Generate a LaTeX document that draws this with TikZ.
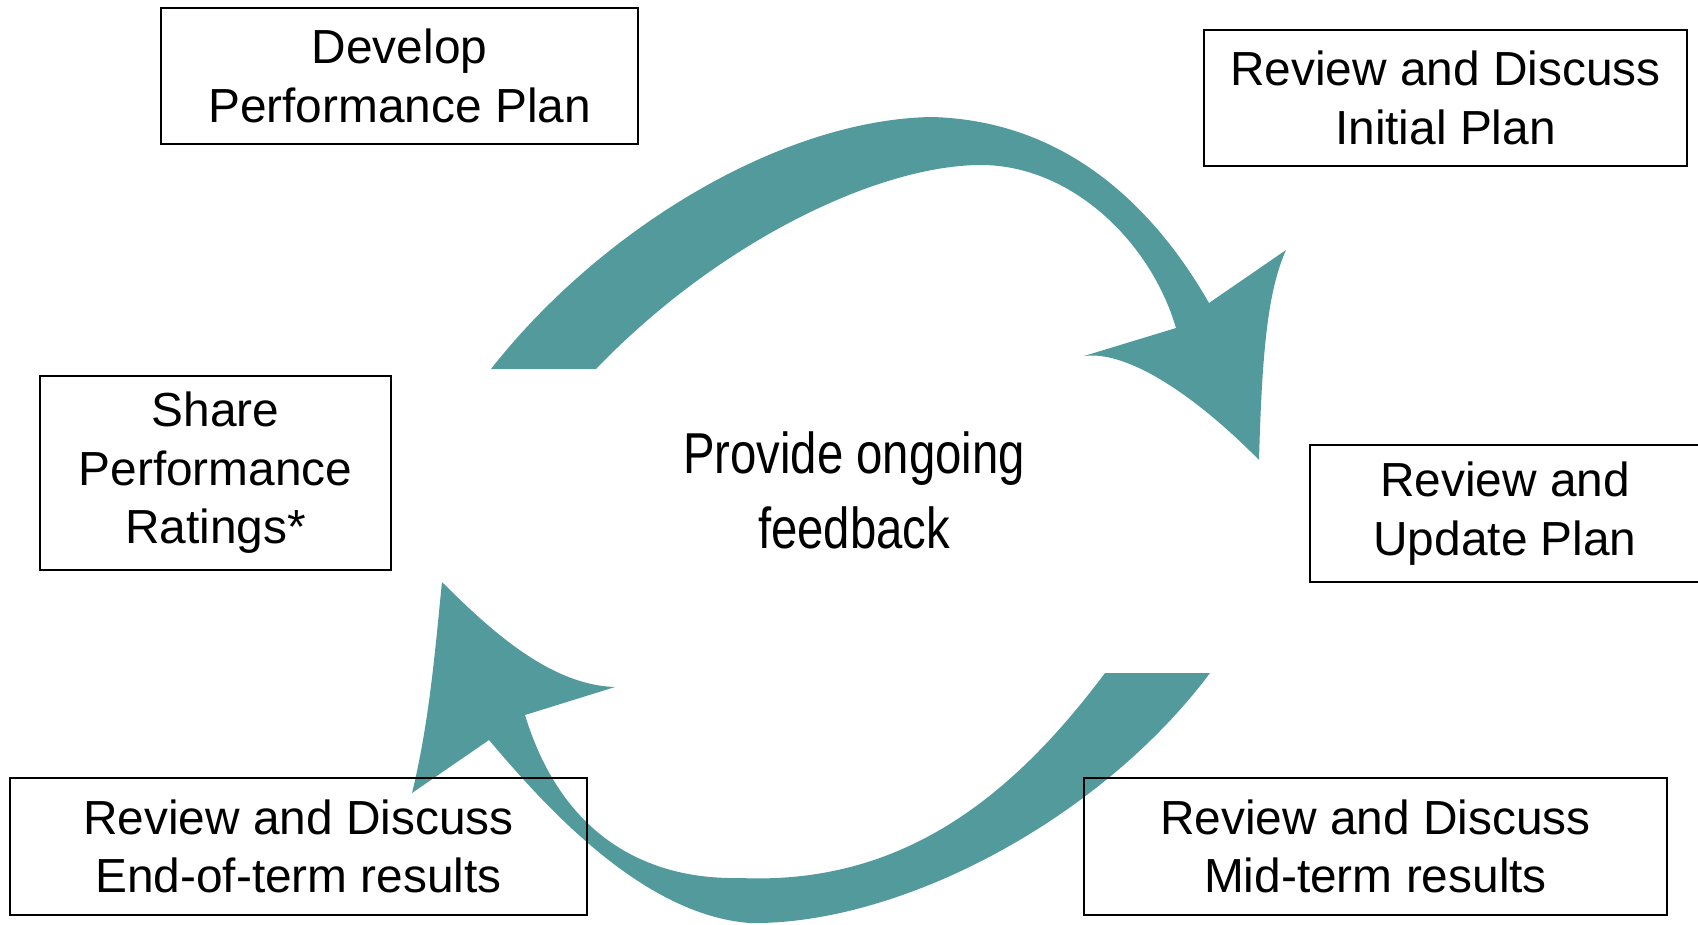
\documentclass[tikz,border=0pt]{standalone}
\usepackage{fontspec}
\setmainfont{Liberation Sans}
\newfontfamily\narrowfont[FakeStretch=0.82]{Liberation Sans}
\usepackage[HTML]{xcolor}
\usepackage{tikz}

\definecolor{cycleteal}{HTML}{529A9B}

\tikzset{
  stepbox/.style={draw=black, line width=0.6pt, align=center, inner sep=0pt,
    font=\fontsize{13.6}{16.6}\selectfont},
  band/.style={fill=cycleteal, draw=none}
}

\begin{document}
\begin{tikzpicture}[x=0.01cm, y=-0.01cm]
\useasboundingbox (0,0) rectangle (1698,924);

% Upper arrow: plan -> review
\fill[band] (491,369) .. controls (600,230) and (780,120) .. (931,117)
  .. controls (1060,120) and (1150,200) .. (1209,303)
  -- (1286,250)
  .. controls (1268,290) and (1262,350) .. (1259,460)
  .. controls (1200,400) and (1130,350) .. (1084,356)
  -- (1176,328)
  .. controls (1150,240) and (1070,165) .. (981,165)
  .. controls (880,165) and (720,240) .. (596,369) -- cycle;

% Lower arrow: mid-term -> end-of-term
\fill[band] (1210,673) .. controls (1100,820) and (900,925) .. (750,923)
  .. controls (640,915) and (540,800) .. (489,740)
  -- (412,793)
  .. controls (430,720) and (436,640) .. (442,582)
  .. controls (490,630) and (550,685) .. (615,687)
  -- (525,715)
  .. controls (560,830) and (640,880) .. (740,878)
  .. controls (900,885) and (1010,800) .. (1105,673) -- cycle;

% Steps of the cycle
\node[stepbox, minimum width=4.77cm, minimum height=1.36cm] (develop) at (399.5,76) {Develop\\Performance Plan};
\node[stepbox, minimum width=4.83cm, minimum height=1.36cm] (initial) at (1445.5,98) {Review and Discuss\\Initial Plan};
\node[stepbox, minimum width=3.51cm, minimum height=1.94cm] (ratings) at (215.5,473) {Share\\Performance\\Ratings*};
\node[stepbox, minimum width=3.90cm, minimum height=1.37cm] (update) at (1505,513.5) {Review and\\Update Plan};
\node[stepbox, minimum width=5.77cm, minimum height=1.37cm] (endterm) at (298.5,846.5) {Review and Discuss\\End-of-term results};
\node[stepbox, minimum width=5.83cm, minimum height=1.37cm] (midterm) at (1375.5,846.5) {Review and Discuss\\Mid-term results};

% Centre text
\node[align=center, font=\narrowfont\fontsize{16.4}{21.3}\selectfont] (feedback) at (854,490) {Provide ongoing\\feedback};
\end{tikzpicture}
\end{document}
